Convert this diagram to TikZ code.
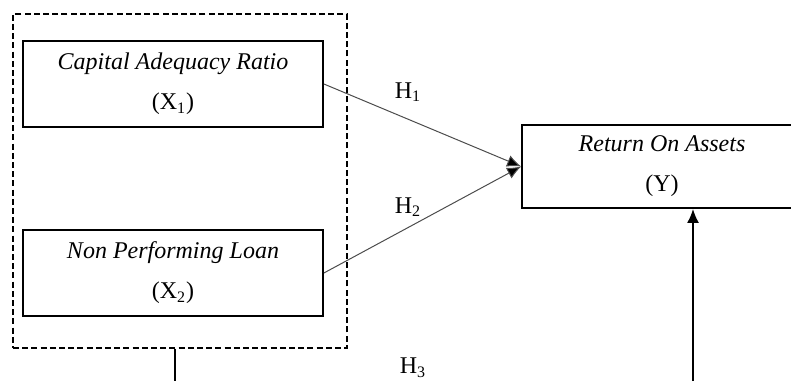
\documentclass[tikz,border=0pt]{standalone}
\usepackage{fontspec}
\setmainfont{Liberation Serif}
\usepackage{tikz}
\usetikzlibrary{arrows.meta}

\begin{document}
\begin{tikzpicture}[x=0.5pt,y=0.5pt,align=center,
    varbox/.style={rectangle, draw, line width=0.9pt, minimum width=150pt, minimum height=43pt, inner sep=0pt, font=\fontsize{12}{20}\selectfont},
    grpbox/.style={rectangle, draw, dashed, dash pattern=on 3pt off 1.6pt, line width=0.7pt, minimum width=167pt, minimum height=167pt, inner sep=0pt},
    hlabel/.style={font=\fontsize{12}{14}\selectfont, inner sep=0pt},
    path/.style={-{Latex[length=7pt,width=6pt,fill=black]}, draw=black!70, line width=0.5pt},
    link/.style={line width=0.9pt}]
      \useasboundingbox (0,0) rectangle (791,381);
      \clip (0,0) rectangle (791,381);
      % independent variables
      \node[grpbox] at (180, 200) (G) {};
      \node[varbox] at (173, 297) (X1) {\textit{Capital Adequacy Ratio}\\(X\textsubscript{1})};
      \node[varbox] at (173, 108) (X2) {\textit{Non Performing Loan}\\(X\textsubscript{2})};
      % dependent variable
      \node[varbox, minimum width=140pt, minimum height=41.5pt] at (662, 214.5) (Y) {\textit{Return On Assets}\\(Y)};
      \node[hlabel] at (408, 289) (H1) {H\textsubscript{1}};
      \node[hlabel] at (408, 174) (H2) {H\textsubscript{2}};
      \node[hlabel] at (413, 13) (H3) {H\textsubscript{3}};
      \coordinate (B1) at (175, 0);
      \coordinate (B2) at (693, 0);
      \draw[path] (X1.east) -- (Y.west);
      \draw[path] (X2.east) -- (Y.west);
      \draw[link] (B1 |- G.south) -- (B1);
      \draw[link, -{Latex[length=7pt,width=6pt]}] (B2) -- (B2 |- Y.south);
\end{tikzpicture}
\end{document}
